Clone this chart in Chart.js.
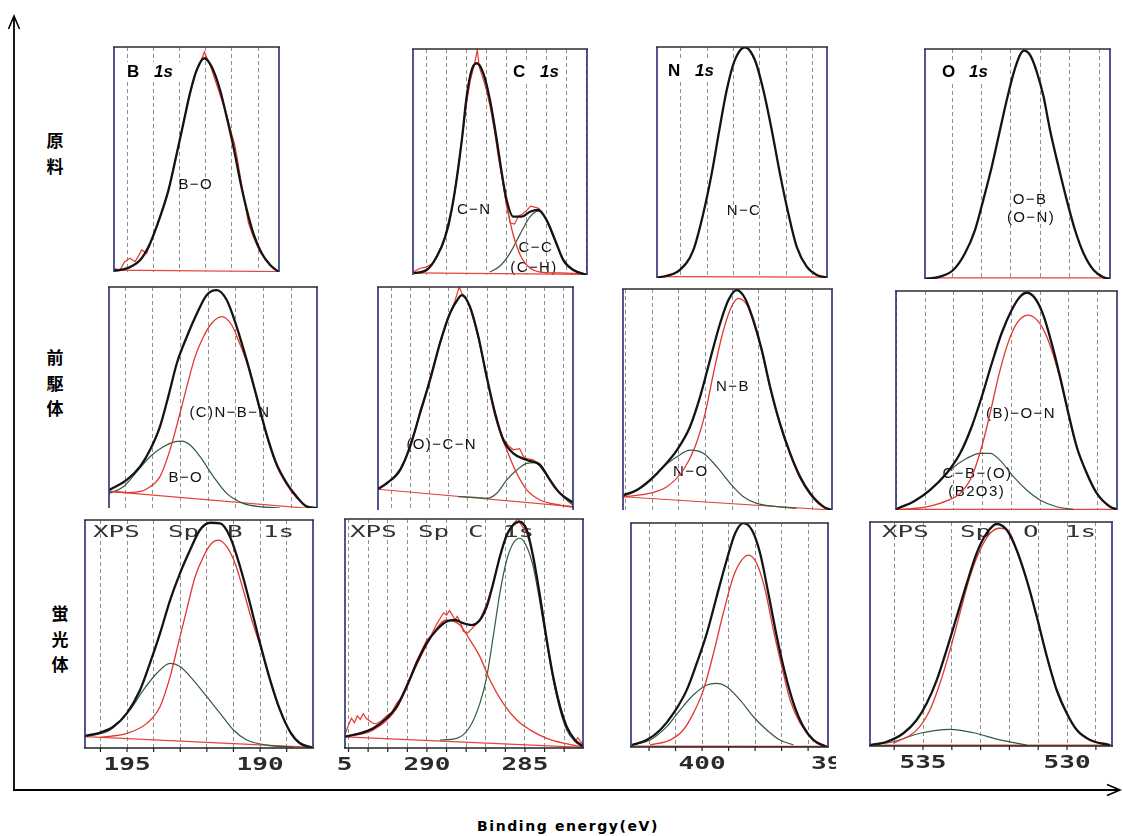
<!DOCTYPE html>
<html><head><meta charset="utf-8">
<script src="https://cdn.jsdelivr.net/npm/chart.js@4.4.0/dist/chart.umd.min.js"></script>
<style>
html,body{margin:0;padding:0;background:#fff;width:1123px;height:836px;overflow:hidden;position:relative}
canvas{position:absolute}
svg{position:absolute;left:0;top:0}
.row{position:absolute;font-family:"Noto Sans CJK JP",sans-serif;font-weight:700;font-size:17px;line-height:25.5px;width:24px;text-align:center;color:#000}
#xt{position:absolute;left:0;width:1136px;top:818px;text-align:center;font-family:"DejaVu Sans",sans-serif;font-weight:700;font-size:14px;letter-spacing:1.6px;color:#000}
</style></head><body>
<svg width="1123" height="836">
  <path d="M14 791 V17" stroke="#000" stroke-width="1.8" fill="none"/>
  <path d="M8.5 29 L14 16 L19.5 29" stroke="#000" stroke-width="1.6" fill="none"/>
  <path d="M13 790 H1119" stroke="#000" stroke-width="1.8" fill="none"/>
  <path d="M1107 784.5 L1120 790 L1107 795.5" stroke="#000" stroke-width="1.6" fill="none"/>
</svg>
<div class="row" style="left:43px;top:127px">原<br>料</div>
<div class="row" style="left:43px;top:344px">前<br>駆<br>体</div>
<div class="row" style="left:48px;top:600px">蛍<br>光<br>体</div>
<div id="xt">Binding energy(eV)</div>
<script>
// ---- B 1s / C 1s / N 1s / O 1s spectra, [binding energy eV, intensity %] ----
// row 1: 原料
const b1Fit = [[196.5,0.5],[196.01,1.6],[195.5,5.3],[195.12,12.8],[194.74,24.6],[194.42,36.4],[194.1,52.8],[193.85,66.1],[193.6,79.4],[193.34,89.8],[193.06,95.0],[192.77,91.2],[192.45,80.9],[192.2,69.0],[191.94,55.7],[191.69,40.9],[191.43,27.6],[191.18,17.2],[190.86,8.3],[190.54,3.1],[190.2,0]];
const b1Spec = [[196.5,1.5],[196.27,0.9],[196.1,4.5],[195.89,6.1],[195.69,4.6],[195.44,9.8],[195.25,8.3],[195.06,14.2],[194.8,22],[194.6,29],[194.4,37.5],[194.2,48],[194.0,58],[193.8,69],[193.6,79],[193.4,88],[193.2,93],[193.05,97.8],[192.95,95],[192.8,91],[192.6,84],[192.4,77],[192.2,70],[192.0,61],[191.9,57],[191.8,51],[191.6,37],[191.37,22],[191.18,15.5],[190.93,9],[190.61,4.6],[190.42,1.5],[190.2,0]];
const b1Base = [[196.5,0.8],[190.2,0.2]];

const c1Fit = [[290.6,0.8],[289.97,2.2],[289.47,8.1],[289.05,16.9],[288.64,33.2],[288.22,59.7],[287.98,78.9],[287.73,90.7],[287.48,93.7],[287.15,89.2],[286.82,77.4],[286.48,59.7],[286.23,45.0],[285.99,33.2],[285.66,25.8],[285.24,25.8],[284.83,28.0],[284.41,28.8],[284.0,24.3],[283.58,15.5],[283.17,6.6],[282.67,2.2],[282.0,0]];
const c1Spec = [[290.6,1.5],[290.3,3],[290.0,3.5],[289.7,5],[289.4,9.5],[289.1,15],[288.85,22],[288.6,35],[288.4,47],[288.2,61],[288.0,75],[287.8,86],[287.6,93],[287.45,99.6],[287.35,92],[287.2,88],[287.0,82],[286.8,74],[286.6,64],[286.4,52],[286.2,42],[286.0,31],[285.8,23],[285.6,22.5],[285.4,26],[285.2,27],[285.0,28.5],[284.8,30.5],[284.6,30],[284.4,29.5],[284.2,27],[284.0,24],[283.8,20],[283.5,13],[283.2,7.5],[282.9,3.5],[282.5,1.5],[282.0,0]];
const c1CN = [[290.6,0.8],[289.97,2.2],[289.47,8.1],[289.05,16.9],[288.64,33.2],[288.22,59.7],[287.98,78.9],[287.73,90.7],[287.48,93.7],[287.15,89.2],[286.82,77.4],[286.48,59.5],[286.23,44.2],[285.99,31],[285.66,17.7],[285.24,7.5],[284.83,3.1],[284.33,1.3],[283.33,0.9],[282.04,0.4]];
const c1CC = [[286.82,1.3],[286.32,4.0],[285.82,9.7],[285.32,18.1],[284.83,25.7],[284.43,28.3],[284.0,24.3],[283.58,15.5],[283.17,6.6],[282.67,2.2],[282.04,0.4]];
const c1Base = [[290.65,0.9],[282.0,0.3]];

const n1Fit = [[402.91,0],[402.04,3.5],[401.53,12.1],[401.15,28.0],[400.83,45.3],[400.52,65.5],[400.26,81.4],[399.95,94.4],[399.57,99.9],[399.19,94.4],[398.87,81.4],[398.55,64.1],[398.24,45.3],[397.92,28.0],[397.6,13.5],[397.22,4.9],[396.84,1.3],[396.45,0.3]];
const n1Base = [[402.91,0.6],[396.45,0.4]];

const o1Fit = [[536.92,0],[536.41,1.0],[535.96,3.9],[535.56,11.2],[535.22,21.3],[534.94,34.3],[534.65,48.8],[534.37,64.8],[534.14,77.8],[533.91,89.4],[533.69,97.4],[533.55,99.3],[533.35,97.4],[533.12,90.1],[532.89,79.3],[532.67,64.8],[532.38,48.8],[532.1,34.3],[531.82,21.3],[531.53,11.2],[531.19,3.9],[530.85,0.7],[530.63,0]];
const o1Base = [[536.92,0.5],[530.63,0.5]];

// row 2: 前駆体
const b2Fit = [[197.58,8.1],[196.94,12.7],[196.46,18.7],[196.1,26.2],[195.74,36.8],[195.44,50.4],[195.13,65.5],[194.77,77.5],[194.41,87.9],[194.05,96.4],[193.69,98.6],[193.33,94.1],[192.97,82.0],[192.61,67.0],[192.25,50.4],[191.9,33.8],[191.54,20.2],[191.16,11.2],[190.8,5.1],[190.44,0.6],[190.07,0]];
const b2BN = [[197.58,7.6],[196.9,7.0],[196.4,7.6],[196.22,8.6],[195.74,14.2],[195.38,26.2],[195.08,39.8],[194.77,54.9],[194.47,68.5],[194.17,77.5],[193.87,83.6],[193.51,86.6],[193.15,82.8],[192.91,76.0],[192.61,66.0],[192.25,50.0],[191.9,33.0],[191.54,19.5],[191.16,10.5],[190.8,4.5],[190.44,1.0],[190.07,0]];
const b2BO = [[197.58,6.6],[197.06,9.6],[196.58,16.4],[196.1,23.2],[195.62,27.7],[195.19,30.0],[194.95,30.3],[194.65,28.5],[194.29,23.2],[193.81,14.2],[193.33,6.6],[192.73,2.1],[192.13,0.6],[191.4,0]];
const b2Base = [[197.58,7.5],[190.07,-0.5]];

const c2Fit = [[292.68,9.4],[292.22,12.0],[291.53,17.9],[291.01,28.4],[290.49,43.4],[289.97,58.3],[289.45,74.8],[288.93,88.2],[288.49,94.9],[288.32,96.4],[287.89,91.2],[287.45,77.7],[287.02,59.8],[286.58,43.4],[286.15,31.4],[285.63,25.4],[284.93,22.4],[284.24,20.2],[283.72,13.5],[283.2,7.5],[282.59,3.7],[282.52,3.3]];
const c2Spec = [[292.68,9.8],[292.3,11.5],[291.9,14],[291.53,18.5],[291.2,24],[291.01,29.5],[290.7,37],[290.49,44.5],[290.2,52],[289.97,59.5],[289.7,67],[289.45,75.5],[289.2,82],[288.93,88.5],[288.7,93],[288.45,100],[288.3,97],[288.1,95.5],[287.89,90.5],[287.7,85],[287.45,77],[287.25,69],[287.02,60.5],[286.8,51],[286.58,44],[286.35,36.5],[286.15,32],[285.9,29],[285.63,27],[285.3,27.5],[285.1,24],[284.93,23],[284.6,22.5],[284.24,20.5],[284.0,17],[283.72,13],[283.5,10],[283.2,7.8],[282.9,5.5],[282.52,3.2]];
const c2OCN = [[292.68,9.4],[292.22,12.0],[291.53,17.9],[291.01,28.4],[290.49,43.4],[289.97,58.3],[289.45,74.8],[288.93,88.2],[288.49,94.9],[288.32,96.4],[287.89,91.2],[287.45,77.7],[287.02,59.8],[286.58,42.0],[285.97,26.9],[285.45,16.5],[284.93,9.0],[284.24,4.5],[283.2,2.2],[282.52,1.3]];
const c2Low = [[288.5,6.0],[287.5,5.6],[287.02,5.2],[286.49,7.5],[285.97,13.5],[285.45,17.9],[284.93,20.9],[284.5,21.2],[283.98,16.5],[283.37,9.0],[282.85,4.5],[282.52,2.2]];
const c2Base = [[292.68,9.3],[282.52,1.5]];

const n2Fit = [[403.07,6.8],[402.57,9.0],[402.07,13.6],[401.58,19.6],[401.07,27.1],[400.58,37.7],[400.2,51.3],[399.83,67.9],[399.45,84.5],[399.14,95.0],[398.83,99.5],[398.52,95.8],[398.21,86.0],[397.89,72.4],[397.58,55.8],[397.21,39.2],[396.83,25.7],[396.46,15.1],[396.08,7.6],[395.58,1.5],[395.27,0]];
const n2NB = [[403.07,6.0],[402.07,7.6],[401.45,10.5],[400.83,18.1],[400.39,28.6],[400.01,43.8],[399.7,61.9],[399.39,78.4],[399.08,90.5],[398.77,95.8],[398.45,92.8],[398.21,85.2],[397.89,71.5],[397.58,55.0],[397.21,38.5],[396.83,25.0],[396.46,14.5],[396.08,7.0],[395.58,1.2],[395.27,0]];
const n2NO = [[403.07,6.2],[402.57,8.8],[402.07,13.2],[401.58,19.6],[401.07,24.1],[400.58,27.1],[400.08,25.7],[399.58,19.6],[399.08,12.1],[398.58,6.0],[398.08,3.0],[397.33,1.5],[396.58,0.8]];
const n2Base = [[403.09,6.0],[395.26,0]];

const o2Fit = [[538.01,0.3],[537.93,0.8],[537.41,3.8],[536.83,9.1],[536.25,16.8],[535.78,25.9],[535.38,38.0],[535.03,51.7],[534.68,67.0],[534.34,80.7],[533.99,91.3],[533.7,97.4],[533.47,99.2],[533.18,96.7],[532.89,89.0],[532.6,76.1],[532.31,60.9],[532.02,44.2],[531.73,28.9],[531.38,16.8],[531.03,7.6],[530.57,1.5],[530.33,0.3]];
const o2BON = [[537.9,0.3],[537.3,0.8],[536.83,1.8],[536.25,4.2],[535.78,7.6],[535.38,15.2],[535.03,28.9],[534.74,44.2],[534.45,60.9],[534.16,74.6],[533.81,85.3],[533.41,89.0],[533.06,86.0],[532.77,79.1],[532.49,68.5],[532.31,60.0],[532.02,43.5],[531.73,28.5],[531.38,16.5],[531.03,7.5],[530.57,1.5],[530.33,0.3]];
const o2CBO = [[537.93,0.8],[537.29,4.6],[536.71,10.6],[536.13,18.3],[535.55,23.6],[535.09,25.9],[534.74,25.9],[534.4,22.8],[533.93,15.2],[533.47,9.1],[533.01,4.6],[532.43,1.5],[531.85,0.3]];
const o2Base = [[538.01,0.3],[530.33,0.3]];

// row 3: 蛍光体
const b3Fit = [[196.58,5.3],[196.02,6.7],[195.52,9.3],[195.01,15.2],[194.51,25.4],[194.14,37.1],[193.76,50.3],[193.38,64.9],[193.01,76.6],[192.63,86.8],[192.26,95.6],[191.88,98.8],[191.5,98.5],[191.13,92.7],[190.75,79.5],[190.38,63.5],[190.0,45.9],[189.62,29.8],[189.25,16.7],[188.87,7.1],[188.5,2.1],[188.06,0.3]];
const b3Main = [[196.0,4.7],[195.01,6.4],[194.26,10.8],[193.76,18.1],[193.38,31.3],[193.07,45.9],[192.76,60.5],[192.44,75.1],[192.13,83.9],[191.82,89.8],[191.57,91.2],[191.25,88.3],[190.94,81.0],[190.63,69.3],[190.31,56.1],[190.0,45.0],[189.62,29.5],[189.25,16.5],[188.87,7.0],[188.5,2.0],[188.06,0.3]];
const b3Side = [[196.58,5.0],[195.64,7.9],[194.89,16.7],[194.39,25.4],[193.88,32.8],[193.38,37.1],[193.01,35.7],[192.51,29.8],[192.0,22.5],[191.5,15.2],[191.0,7.9],[190.5,3.5],[189.75,1.3],[188.75,0.3]];
const b3Base = [[196.58,5.0],[188.01,0.3]];

const c3Fit = [[294.18,4.9],[293.42,6.4],[292.74,8.6],[292.06,13.0],[291.55,18.0],[291.04,26.8],[290.53,37.0],[290.02,45.7],[289.51,51.5],[288.99,55.2],[288.57,55.9],[288.15,54.5],[287.72,53.7],[287.3,55.9],[286.95,61.7],[286.62,71.9],[286.28,83.5],[285.93,93.0],[285.6,97.4],[285.29,98.8],[284.91,95.2],[284.58,83.5],[284.23,66.1],[283.89,47.2],[283.56,31.1],[283.21,18.0],[282.87,9.3],[282.45,3.5],[282.02,0.6]];
const c3Spec = [[294.18,6],[294.0,10],[293.85,13],[293.7,11],[293.55,14],[293.4,12.5],[293.25,15],[293.1,13],[292.95,12],[292.8,11],[292.6,10.5],[292.3,12],[292.06,14],[291.8,15.5],[291.55,19.5],[291.3,22],[291.04,27.5],[290.8,32],[290.53,38],[290.3,42],[290.02,47],[289.8,49],[289.51,54],[289.3,57],[289.15,59],[289.0,58],[288.85,60],[288.7,58],[288.57,56],[288.45,57.5],[288.3,55],[288.15,51],[287.95,50],[287.72,52],[287.5,54],[287.3,56],[287.1,60],[286.95,63],[286.62,72],[286.28,84],[285.93,93.5],[285.6,98],[285.35,100],[285.15,97],[284.91,94],[284.7,88],[284.58,83],[284.23,66.5],[283.89,47.5],[283.56,31],[283.21,18.5],[282.87,9.5],[282.6,5],[282.45,3],[282.3,4.5],[282.02,1]];
const c3Hi = [[294.18,4.9],[292.74,7.9],[291.55,17.3],[290.53,36.2],[289.68,50.1],[288.99,55.9],[288.32,53.7],[287.81,47.2],[287.3,39.9],[286.79,29.7],[286.11,19.5],[285.42,12.2],[284.74,7.9],[283.89,4.2],[283.04,2.1],[282.11,0.6]];
const c3Lo = [[289.34,3.5],[288.48,4.2],[287.81,9.3],[287.3,19.5],[286.95,31.1],[286.62,48.6],[286.28,67.6],[285.93,82.1],[285.6,89.4],[285.26,91.6],[284.91,87.9],[284.58,79.2],[284.23,63.2],[283.89,45.7],[283.56,29.7],[283.21,16.6],[282.87,7.9],[282.45,2.8],[282.02,0.6]];
const c3Base = [[294.18,4.9],[282.04,0.3]];

const n3Fit = [[402.65,0.9],[402.09,3.1],[401.58,7.6],[401.08,15.0],[400.58,25.4],[400.2,37.4],[399.82,50.8],[399.45,67.1],[399.07,83.5],[398.75,95.4],[398.44,99.9],[398.12,96.9],[397.81,86.5],[397.5,68.6],[397.18,49.2],[396.87,32.9],[396.55,19.5],[396.18,9.1],[395.8,3.1],[395.29,0]];
const n3Main = [[401.96,0.9],[401.21,3.1],[400.71,7.6],[400.33,15.0],[399.95,25.4],[399.57,41.8],[399.2,59.7],[398.82,76.0],[398.5,83.5],[398.25,85.7],[397.94,82.0],[397.62,70.1],[397.31,52.2],[396.99,35.8],[396.68,21.0],[396.3,10.6],[395.86,3.9],[395.29,0.1]];
const n3Side = [[402.65,0.9],[401.96,3.1],[401.33,9.1],[400.83,16.5],[400.33,23.2],[399.82,27.7],[399.45,28.4],[399.07,26.9],[398.57,21.0],[398.06,13.5],[397.56,7.6],[397.06,3.1],[396.55,0.9]];
const n3Base = [[402.68,0.4],[395.25,0.3]];

const o3Fit = [[536.84,0.4],[536.26,1.9],[535.68,5.7],[535.22,11.6],[534.87,19.1],[534.52,29.5],[534.18,42.9],[533.83,57.7],[533.48,72.6],[533.14,86.0],[532.79,95.0],[532.44,99.1],[532.09,96.4],[531.75,87.5],[531.4,74.1],[531.05,57.7],[530.7,39.9],[530.36,25.0],[530.01,14.6],[529.66,7.1],[529.2,2.7],[528.51,0.4]];
const o3Main = [[536.03,1.2],[535.22,7.1],[534.76,16.1],[534.41,28.0],[534.06,42.9],[533.72,59.2],[533.37,75.6],[533.02,87.5],[532.67,95.0],[532.33,97.2],[531.98,95.0],[531.75,87.3],[531.4,74.0],[531.05,57.5],[530.7,39.7],[530.36,24.8],[530.01,14.5],[529.66,7.0],[529.2,2.6],[528.51,0.3]];
const o3Side = [[536.84,0.4],[536.03,1.9],[535.1,5.7],[534.06,7.4],[533.25,5.9],[532.33,2.7],[531.4,0.4]];
const o3Base = [[536.84,0.4],[528.44,0.4]];

// energy-axis tick labels of the bottom row
const bTickLabels = [195, 190];
const cTickLabels = [295, 290, 285];
const nTickLabels = [400, 395];
const oTickLabels = [535, 530];

// ---- line styles ----
const styles = {
  fit:   {c:'#141414', w:2.3, smooth:true},
  spec:  {c:'#e8372d', w:1.2, smooth:false},
  red:   {c:'#e0382f', w:1.3, smooth:true},
  green: {c:'#2e5c40', w:1.2, smooth:true},
  base:  {c:'#e4453a', w:1.2, smooth:false}
};

// ---- panel layout: box = [left, top, right, bottom] of the plot frame on the page ----
const panels = [
  {box:[114,47,279,272], eV:[190.2,196.5], pad:[5,4,5,4],
   series:[[b1Fit,'fit'],[b1Spec,'spec'],[b1Base,'base']],
   notes:[['B−O',81.7,138]], head:['B',13,30]},
  {box:[413,49,587,275], eV:[281.99,290.65], pad:[5,4,5,4],
   series:[[c1Fit,'fit'],[c1Spec,'spec'],[c1CN,'red'],[c1CC,'green'],[c1Base,'base']],
   notes:[['C−N',61.2,161],['C−C',122.8,199],['(C−H)',121,219]], head:['C',100,28]},
  {box:[657,47,827,278], eV:[396.45,402.91], pad:[5,4,5,4],
   series:[[n1Fit,'fit'],[n1Base,'base']],
   notes:[['N−C',87,164]], head:['N',11,29]},
  {box:[925,49,1110,279], eV:[530.63,536.92], pad:[5,4,5,4],
   series:[[o1Fit,'fit'],[o1Base,'base']],
   notes:[['O−B',105,151],['(O−N)',106,168.5]], head:['O',17,28]},

  {box:[109,287,317,508], eV:[190.07,197.58], pad:[5,4,5,4],
   series:[[b2Fit,'fit'],[b2BN,'red'],[b2BO,'green'],[b2Base,'base']],
   notes:[['(C)N−B−N',121,125.5],['B−O',76.8,190.5]]},
  {box:[378,287,573,510], eV:[282.52,292.68], pad:[5,4,5,4],
   series:[[c2Fit,'fit'],[c2Spec,'spec'],[c2OCN,'red'],[c2Low,'green'],[c2Base,'base']],
   notes:[['(O)−C−N',63.7,158]]},
  {box:[623,289,832,510], eV:[395.26,403.09], pad:[5,4,5,4],
   series:[[n2Fit,'fit'],[n2NB,'red'],[n2NO,'green'],[n2Base,'base']],
   notes:[['N−B',110,97.7],['N−O',67.8,182.7]]},
  {box:[896,291,1117,510], eV:[530.33,538.01], pad:[5,4,5,4],
   series:[[o2Fit,'fit'],[o2BON,'red'],[o2CBO,'green'],[o2Base,'base']],
   notes:[['(B)−O−N',125,123],['C−B−(O)',81.5,183],['(B2O3)',80.7,200.7]]},

  {box:[85,520,313,748], eV:[188.01,196.58], pad:[6,4,6,30],
   series:[[b3Fit,'fit'],[b3Main,'red'],[b3Side,'green'],[b3Base,'base']],
   words:[['XPS',8],['Sp',83],['B',142],['1s',178]], wordsY:17, tickLabels:bTickLabels},
  {box:[345,519,583,748], eV:[282.04,294.18], pad:[7,4,6,30],
   series:[[c3Fit,'fit'],[c3Spec,'spec'],[c3Hi,'red'],[c3Lo,'green'],[c3Base,'base']],
   words:[['XPS',5],['Sp',73],['C',123],['1s',158]], wordsY:18, tickLabels:cTickLabels},
  {box:[631,523,828,747], eV:[395.25,402.68], pad:[6,4,8,30],
   series:[[n3Fit,'fit'],[n3Main,'red'],[n3Side,'green'],[n3Base,'base']],
   tickLabels:nTickLabels},
  {box:[870,522,1112,746], eV:[528.44,536.84], pad:[6,4,6,30],
   series:[[o3Fit,'fit'],[o3Main,'red'],[o3Side,'green'],[o3Base,'base']],
   words:[['XPS',12],['Sp',90],['O',153],['1s',195]], wordsY:15, tickLabels:oTickLabels}
];

function dataset(points, kind) {
  const s = styles[kind];
  return {
    data: points.map(p => ({x: p[0], y: p[1]})),
    borderColor: s.c, borderWidth: s.w, pointRadius: 0, fill: false,
    tension: 0, cubicInterpolationMode: s.smooth ? 'monotone' : 'default'
  };
}

// wide, stretched instrument-style text
function wideText(ctx, txt, x, y, align, size, sx, color, weight) {
  ctx.save();
  ctx.translate(x, y);
  ctx.scale(sx, 1);
  ctx.font = (weight || '') + ' ' + size + 'px "DejaVu Sans Mono", monospace';
  ctx.fillStyle = color;
  ctx.textAlign = align;
  ctx.textBaseline = 'alphabetic';
  ctx.fillText(txt, 0, 0);
  ctx.restore();
}

function decor(p) {
  return {
    id: 'decor',
    beforeDatasetsDraw(chart) {
      const {ctx, chartArea: a} = chart;
      ctx.save();
      if (p.head) {
        const [el, dx, dy] = p.head;
        const x0 = a.left + dx, y0 = a.top + dy;
        ctx.fillStyle = '#fff';
        ctx.fillRect(x0 - 3, y0 - 15, 56, 19);
        ctx.fillStyle = '#000';
        ctx.textAlign = 'left';
        ctx.textBaseline = 'alphabetic';
        ctx.font = 'bold 17px "Liberation Sans", Arial, sans-serif';
        ctx.fillText(el, x0, y0);
        ctx.font = 'italic bold 17px "Liberation Sans", Arial, sans-serif';
        ctx.fillText('1s', x0 + 27, y0);
      }
      if (p.words) {
        p.words.forEach(w => wideText(ctx, w[0], a.left + w[1], a.top + p.wordsY, 'left', 16, 1.62, '#333'));
      }
      ctx.fillStyle = '#111';
      ctx.font = '15px "Liberation Sans", Arial, sans-serif';
      ctx.textAlign = 'center';
      ctx.textBaseline = 'middle';
      ctx.letterSpacing = '1.4px';
      (p.notes || []).forEach(n => ctx.fillText(n[0], a.left + n[1], a.top + n[2]));
      ctx.restore();
    },
    afterDraw(chart) {
      const {ctx, chartArea: a, scales: {x}} = chart;
      ctx.save();
      // frame
      ctx.lineWidth = 1.6;
      ctx.strokeStyle = '#2a2c74';
      ctx.beginPath();
      ctx.moveTo(a.left, a.top); ctx.lineTo(a.left, a.bottom);
      ctx.moveTo(a.right, a.top); ctx.lineTo(a.right, a.bottom);
      ctx.stroke();
      ctx.strokeStyle = '#2b2b2b';
      ctx.beginPath();
      ctx.moveTo(a.left - 1, a.top); ctx.lineTo(a.right + 1, a.top);
      ctx.stroke();
      if (p.tickLabels) {
        ctx.strokeStyle = '#222';
        ctx.lineWidth = 1.5;
        ctx.beginPath();
        ctx.moveTo(a.left - 1, a.bottom); ctx.lineTo(a.right + 1, a.bottom);
        ctx.stroke();
        ctx.lineWidth = 1.2;
        ctx.beginPath();
        for (let v = Math.ceil(x.min); v <= Math.floor(x.max); v++) {
          const px = x.getPixelForValue(v);
          ctx.moveTo(px, a.bottom); ctx.lineTo(px, a.bottom + 4);
        }
        ctx.stroke();
        p.tickLabels.forEach(v => wideText(ctx, String(v), x.getPixelForValue(v), a.bottom + 22, 'center', 18, 1.45, '#2a2a2a', 'bold'));
      }
      ctx.restore();
    }
  };
}

panels.forEach(p => {
  const [L, T, R, B] = p.box;
  const [pl, pt, pr, pb] = p.pad;
  const cv = document.createElement('canvas');
  cv.width = R - L + pl + pr;
  cv.height = B - T + pt + pb;
  cv.style.left = (L - pl) + 'px';
  cv.style.top = (T - pt) + 'px';
  document.body.appendChild(cv);
  new Chart(cv, {
    type: 'line',
    data: {datasets: p.series.map(s => dataset(s[0], s[1]))},
    options: {
      responsive: false, animation: false, devicePixelRatio: 1, events: [],
      layout: {padding: {left: pl, top: pt, right: pr, bottom: pb}},
      plugins: {legend: {display: false}, tooltip: {enabled: false}},
      scales: {
        x: {
          type: 'linear', reverse: true, min: p.eV[0], max: p.eV[1],
          afterBuildTicks: sc => {
            const t = [];
            for (let v = Math.ceil(sc.min); v <= Math.floor(sc.max); v++) t.push({value: v});
            sc.ticks = t;
          },
          afterFit: sc => { sc.height = 0; },
          ticks: {display: false},
          grid: {color: '#8e8e8e', lineWidth: 1, drawTicks: false},
          border: {display: false, dash: [4, 3]}
        },
        y: {display: false, min: 0, max: 100}
      }
    },
    plugins: [decor(p)]
  });
});
</script>
</body></html>
